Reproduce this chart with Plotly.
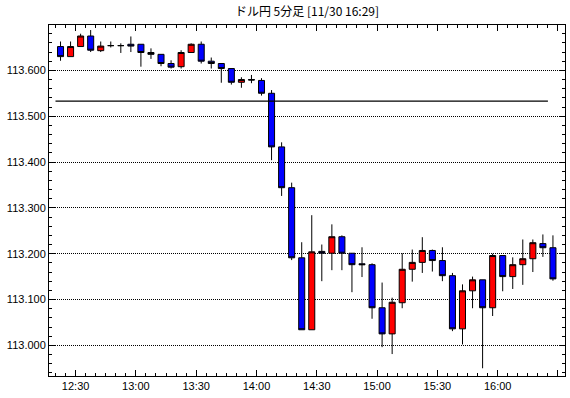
import plotly.graph_objects as go
import pandas as pd

times = pd.date_range("2021-11-30 12:22:30", periods=50, freq="5min")
opens = [113.652, 113.630, 113.652, 113.675, 113.643, 113.654, 113.654, 113.657, 113.657, 113.639,
         113.635, 113.615, 113.608, 113.639, 113.657, 113.620, 113.615, 113.604, 113.574, 113.580,
         113.578, 113.550, 113.433, 113.344, 113.191, 113.034, 113.205, 113.201, 113.237, 113.201,
         113.178, 113.176, 113.082, 113.025, 113.093, 113.166, 113.181, 113.207, 113.185, 113.152,
         113.036, 113.119, 113.143, 113.082, 113.196, 113.150, 113.176, 113.189, 113.222, 113.213]
highs = [113.663, 113.663, 113.680, 113.688, 113.663, 113.663, 113.659, 113.674, 113.657, 113.648,
         113.635, 113.622, 113.644, 113.659, 113.663, 113.628, 113.615, 113.604, 113.585, 113.590,
         113.583, 113.557, 113.443, 113.355, 113.225, 113.284, 113.220, 113.264, 113.240, 113.201,
         113.214, 113.179, 113.137, 113.104, 113.201, 113.209, 113.236, 113.209, 113.214, 113.158,
         113.133, 113.150, 113.143, 113.200, 113.196, 113.192, 113.231, 113.231, 113.242, 113.240]
lows = [113.621, 113.630, 113.652, 113.640, 113.640, 113.650, 113.638, 113.640, 113.608, 113.625,
        113.609, 113.604, 113.604, 113.639, 113.615, 113.604, 113.573, 113.569, 113.562, 113.572,
        113.545, 113.404, 113.326, 113.186, 113.034, 113.034, 113.140, 113.164, 113.164, 113.116,
        113.149, 113.058, 112.996, 112.981, 113.081, 113.139, 113.158, 113.161, 113.140, 113.031,
        113.002, 113.081, 112.950, 113.064, 113.118, 113.123, 113.132, 113.160, 113.193, 113.141]
closes = [113.630, 113.652, 113.675, 113.644, 113.653, 113.654, 113.654, 113.653, 113.639, 113.635,
          113.615, 113.607, 113.639, 113.657, 113.620, 113.615, 113.604, 113.574, 113.580, 113.579,
          113.550, 113.433, 113.344, 113.191, 113.034, 113.204, 113.201, 113.237, 113.201, 113.176,
          113.176, 113.082, 113.025, 113.094, 113.166, 113.181, 113.207, 113.185, 113.152, 113.036,
          113.119, 113.143, 113.082, 113.196, 113.150, 113.176, 113.189, 113.224, 113.213, 113.145]
ref_level = 113.533
ref_start = "2021-11-30 12:20:00"
ref_end = "2021-11-30 16:25:00"
title_text = "ドル円 5分足 [11/30 16:29]"

fig = go.Figure()
fig.add_trace(go.Candlestick(
    x=times, open=opens, high=highs, low=lows, close=closes,
    increasing=dict(line=dict(color="black", width=1), fillcolor="#ff0000"),
    decreasing=dict(line=dict(color="black", width=1), fillcolor="#0000ff"),
    whiskerwidth=0, showlegend=False, hoverinfo="skip",
))
fig.add_trace(go.Scatter(
    x=[ref_start, ref_end], y=[ref_level, ref_level], mode="lines",
    line=dict(color="black", width=1.3), showlegend=False, hoverinfo="skip",
))

font_ticks = dict(family="Liberation Sans", size=11, color="black")
fig.update_layout(
    width=570, height=398,
    margin=dict(l=49, r=5, t=25, b=22),
    paper_bgcolor="white", plot_bgcolor="white",
    boxgap=0.4, boxgroupgap=0,
    title=dict(text=title_text, x=(49 + 565) / 2 / 570, xanchor="center", y=1 - 12 / 398, yanchor="middle",
               font=dict(family="Noto Sans CJK JP", size=12, color="black")),
    xaxis=dict(
        type="date",
        range=["2021-11-30 12:16:46", "2021-11-30 16:33:30"],
        rangeslider=dict(visible=False),
        tick0="2021-11-30 12:30:00", dtick=1800000, tickformat="%H:%M",
        ticks="inside", ticklen=6, tickcolor="black", tickwidth=1,
        minor=dict(dtick=300000, tick0="2021-11-30 12:30:00", ticks="inside", ticklen=3, tickcolor="black"),
        showline=True, linecolor="black", linewidth=1, mirror="allticks",
        showgrid=False, zeroline=False, tickfont=font_ticks,
    ),
    yaxis=dict(
        range=[112.9331, 113.6990],
        tick0=113.0, dtick=0.1, tickformat=".3f",
        ticks="inside", ticklen=6, tickcolor="black", tickwidth=1,
        minor=dict(dtick=0.02, ticks="inside", ticklen=3, tickcolor="black", showgrid=False),
        showline=True, linecolor="black", linewidth=1, mirror="allticks",
        showgrid=True, gridcolor="black", griddash="1px,1px", gridwidth=1,
        zeroline=False, tickfont=font_ticks,
    ),
)

fig.write_html("out.html")
